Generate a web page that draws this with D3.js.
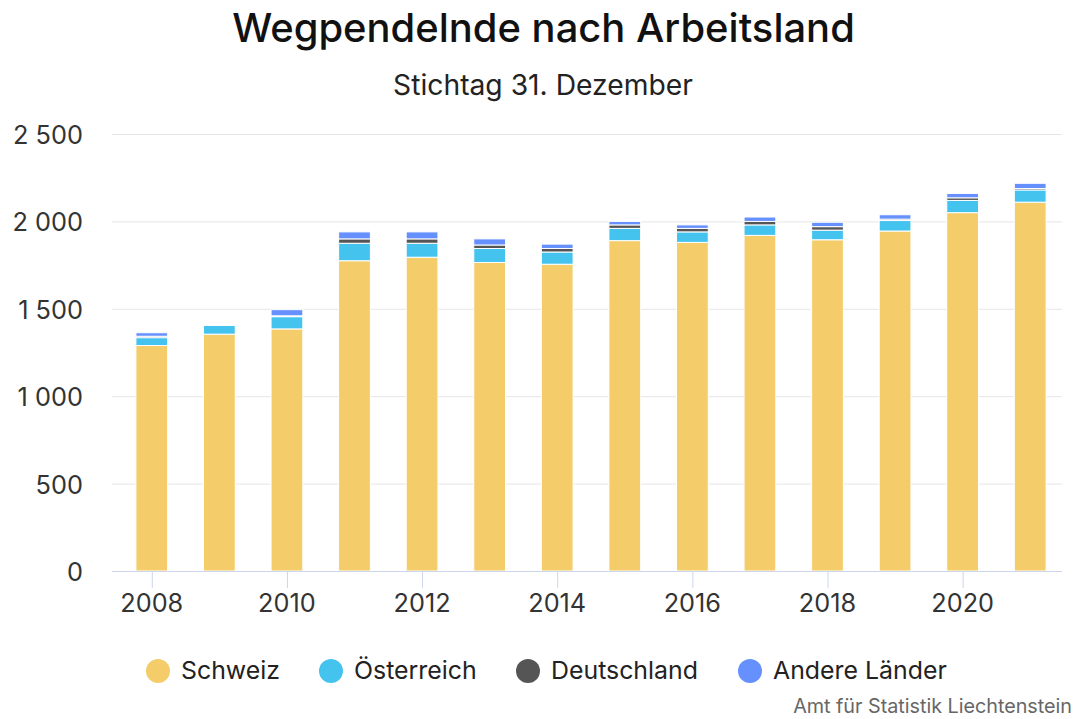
<!DOCTYPE html>
<html>

<head>
  <meta charset="utf-8">
  <title>Wegpendelnde nach Arbeitsland</title>
  <style>
    body { margin: 0; background: #fff; }
    text { font-family: Inter, Lato, sans-serif; }
  </style>
</head>

<body>
  <svg width="1076" height="719"></svg>
  <script src="https://d3js.org/d3.v7.min.js"></script>
  <script>
    var years = [2008, 2009, 2010, 2011, 2012, 2013, 2014, 2015, 2016, 2017, 2018, 2019, 2020, 2021];
    var schweiz     = [1290, 1355, 1385, 1775, 1795, 1765, 1755, 1890, 1880, 1920, 1895, 1945, 2050, 2110];
    var oesterreich = [45, 50, 70, 100, 80, 80, 70, 70, 60, 60, 55, 60, 70, 70];
    var deutschland = [8, 3, 5, 25, 25, 20, 20, 20, 20, 20, 20, 8, 15, 8];
    var andere      = [20, 5, 35, 40, 40, 35, 25, 20, 20, 25, 25, 25, 25, 30];
    var seriesNames = ["Schweiz", "Österreich", "Deutschland", "Andere Länder"];
    var colors = ["#f4cd6a", "#45c3ef", "#555555", "#6690fd"];
    var yTicks = [0, 500, 1000, 1500, 2000, 2500];

    var rows = years.map(function (y, i) {
      return { year: y, s0: schweiz[i], s1: oesterreich[i], s2: deutschland[i], s3: andere[i] };
    });
    var keys = ["s0", "s1", "s2", "s3"];

    var svg = d3.select("svg");
    var xScale = d3.scaleBand().domain(years).range([118, 1064]).paddingInner(0.53).paddingOuter(0.265);
    var yScale = d3.scaleLinear().domain([0, 2500]).range([571, 134]);

    // font size that makes a sample string a given width
    function fitSize(str, width, weight) {
      var t = svg.append("text").style("font-size", "20px").style("font-weight", weight || 400).text(str);
      var w = t.node().getComputedTextLength();
      t.remove();
      return 20 * width / w;
    }

    // title
    svg.append("text").attr("x", 543.5).attr("y", 42).attr("text-anchor", "middle")
      .style("font-size", fitSize("Wegpendelnde nach Arbeitsland", 623, 500) + "px")
      .style("font-weight", 500).attr("fill", "#111")
      .text("Wegpendelnde nach Arbeitsland");
    svg.append("text").attr("x", 543).attr("y", 95).attr("text-anchor", "middle")
      .style("font-size", fitSize("Stichtag 31. Dezember", 300) + "px").attr("fill", "#222")
      .text("Stichtag 31. Dezember");

    // grid
    svg.append("g").selectAll("line").data(yTicks.filter(d => d > 0)).enter().append("line")
      .attr("x1", 112).attr("x2", 1062)
      .attr("y1", d => yScale(d) + 0.5).attr("y2", d => yScale(d) + 0.5)
      .attr("stroke", "#e6e6e6").attr("stroke-width", 1);

    var tickSize = fitSize("2 500", 70);
    svg.append("g").selectAll("text").data(yTicks).enter().append("text")
      .attr("x", 83).attr("y", d => yScale(d) + 10).attr("text-anchor", "end")
      .style("font-size", tickSize + "px").attr("fill", "#333")
      .text(d => d3.format(",")(d).replace(",", " "));

    // stacked bars
    var stack = d3.stack().keys(keys)(rows);
    svg.append("g").selectAll("g").data(stack).enter().append("g")
      .attr("fill", (d, i) => colors[i])
      .selectAll("rect").data(d => d).enter().append("rect")
      .attr("x", d => xScale(d.data.year))
      .attr("width", xScale.bandwidth())
      .attr("y", d => yScale(d[1]))
      .attr("height", d => yScale(d[0]) - yScale(d[1]))
      .attr("stroke", "#fff").attr("stroke-width", 1);

    // x axis
    svg.append("line").attr("x1", 112).attr("x2", 1062).attr("y1", 571.5).attr("y2", 571.5)
      .attr("stroke", "#ccd6eb");
    var xTickYears = years.filter(y => y % 2 === 0);
    var xt = svg.append("g").selectAll("g").data(xTickYears).enter().append("g");
    xt.append("line")
      .attr("x1", d => xScale(d) + xScale.bandwidth() / 2 + 0.5).attr("x2", d => xScale(d) + xScale.bandwidth() / 2 + 0.5)
      .attr("y1", 572).attr("y2", 588).attr("stroke", "#ccd6eb");
    xt.append("text")
      .attr("x", d => xScale(d) + xScale.bandwidth() / 2).attr("y", 612).attr("text-anchor", "middle")
      .style("font-size", fitSize("2008", 63) + "px").attr("fill", "#333").text(d => d);

    // legend
    var legendX = [158, 331, 528, 750];
    var legSize = fitSize("Schweiz", 99);
    var lg = svg.append("g").selectAll("g").data(seriesNames).enter().append("g")
      .attr("transform", (d, i) => "translate(" + legendX[i] + ",671)");
    lg.append("circle").attr("r", 12).attr("fill", (d, i) => colors[i]);
    lg.append("text").attr("x", 23).attr("y", 8).style("font-size", legSize + "px").attr("fill", "#222").text(d => d);

    svg.append("text").attr("x", 1072).attr("y", 713).attr("text-anchor", "end")
      .style("font-size", fitSize("Amt für Statistik Liechtenstein", 279) + "px")
      .attr("fill", "#666").text("Amt für Statistik Liechtenstein");
  </script>

</body>

</html>
